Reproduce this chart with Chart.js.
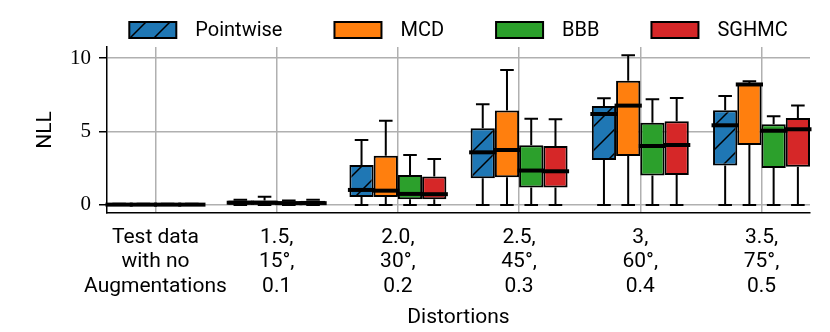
<!DOCTYPE html>
<html>
<head>
<meta charset="utf-8">
<script src="https://cdn.jsdelivr.net/npm/chart.js@4/dist/chart.umd.min.js"></script>
<style>
  html, body { margin: 0; padding: 0; background: #fff; }
  #wrap { width: 830px; height: 332px; }
</style>
</head>
<body>
<div id="wrap"><canvas id="nllChart" width="830" height="332"></canvas></div>
<script>
// tick labels, one entry per distortion level
const categories = [
  ["Test data", "with no", "Augmentations"],
  ["1.5,", "15°,", "0.1"],
  ["2.0,", "30°,", "0.2"],
  ["2.5,", "45°,", "0.3"],
  ["3,", "60°,", "0.4"],
  ["3.5,", "75°,", "0.5"]
];

// five-number summaries per level: [min, q1, median, q3, max]
const pointwise = [
  [0, 0, 0.02, 0.05, 0.08],
  [0, 0.02, 0.15, 0.30, 0.35],
  [0, 0.54, 1.02, 2.72, 4.42],
  [0, 1.81, 3.58, 5.22, 6.85],
  [0, 3.06, 6.19, 6.73, 7.26],
  [0, 2.68, 5.42, 6.44, 7.41]
];
const mcd = [
  [0, 0, 0.02, 0.05, 0.08],
  [0, 0.02, 0.15, 0.30, 0.55],
  [0, 0.54, 0.97, 3.35, 5.73],
  [0, 1.88, 3.74, 6.42, 9.18],
  [0, 3.33, 6.76, 8.46, 10.18],
  [0, 4.08, 8.20, 8.25, 8.42]
];
const bbb = [
  [0, 0, 0.02, 0.05, 0.08],
  [0, 0.02, 0.12, 0.25, 0.30],
  [0, 0.39, 0.75, 2.04, 3.40],
  [0, 1.18, 2.34, 4.06, 5.87],
  [0, 2.00, 4.01, 5.60, 7.19],
  [0, 2.52, 5.05, 5.49, 6.03]
];
const sghmc = [
  [0, 0, 0.02, 0.05, 0.08],
  [0, 0.02, 0.12, 0.28, 0.35],
  [0, 0.39, 0.73, 1.93, 3.13],
  [0, 1.18, 2.29, 4.01, 5.83],
  [0, 2.04, 4.08, 5.69, 7.28],
  [0, 2.59, 5.15, 5.92, 6.76]
];

const FONT = "Roboto";

function hatchPattern(color) {
  const size = 24;
  const c = document.createElement("canvas");
  c.width = size;
  c.height = size;
  const g = c.getContext("2d");
  g.fillStyle = color;
  g.fillRect(0, 0, size, size);
  g.strokeStyle = "#000";
  g.lineWidth = 1.5;
  g.beginPath();
  g.moveTo(-2, size + 2); g.lineTo(size + 2, -2);
  g.moveTo(-2, 2); g.lineTo(2, -2);
  g.moveTo(size - 2, size + 2); g.lineTo(size + 2, size - 2);
  g.stroke();
  return g.createPattern(c, "repeat");
}

function makeDataset(label, stats, fill) {
  return {
    label: label,
    stats: stats,
    data: stats.map((s, i) => ({ x: i, y: [s[1], s[3]] })),
    backgroundColor: fill,
    borderColor: "#000",
    borderWidth: 2,
    borderSkipped: false,
    categoryPercentage: 0.8,
    barPercentage: 1.0
  };
}

// whiskers, caps and medians, placed with the chart's own scales
const boxParts = {
  id: "boxParts",
  afterDatasetsDraw(chart) {
    const ctx = chart.ctx;
    const y = chart.scales.y;
    ctx.save();
    ctx.strokeStyle = "#000";
    chart.data.datasets.forEach((ds, di) => {
      const meta = chart.getDatasetMeta(di);
      meta.data.forEach((bar, i) => {
        const s = ds.stats[i];
        const { x, width } = bar.getProps(["x", "width"], true);
        const capHalf = width * 0.28;
        const yMin = y.getPixelForValue(s[0]);
        const yQ1 = y.getPixelForValue(s[1]);
        const yMed = y.getPixelForValue(s[2]);
        const yQ3 = y.getPixelForValue(s[3]);
        const yMax = y.getPixelForValue(s[4]);
        ctx.lineWidth = 2;
        ctx.beginPath();
        ctx.moveTo(x, yQ1); ctx.lineTo(x, yMin);
        ctx.moveTo(x, yQ3); ctx.lineTo(x, yMax);
        ctx.moveTo(x - capHalf, yMin); ctx.lineTo(x + capHalf, yMin);
        ctx.moveTo(x - capHalf, yMax); ctx.lineTo(x + capHalf, yMax);
        ctx.stroke();
        ctx.lineWidth = 4;
        ctx.beginPath();
        ctx.moveTo(x - width / 2 - 1.5, yMed);
        ctx.lineTo(x + width / 2 + 1.5, yMed);
        ctx.stroke();
      });
    });
    ctx.restore();
  }
};

// legend row above the plot, centred on the chart area
const boxLegend = {
  id: "boxLegend",
  afterDraw(chart) {
    const ctx = chart.ctx;
    const area = chart.chartArea;
    ctx.save();
    ctx.font = "20px " + FONT;
    const boxW = 47, boxH = 16, gapText = 19, gapItem = 52;
    const items = chart.data.datasets.map(ds => ({
      label: ds.label,
      fill: ds.backgroundColor,
      w: ctx.measureText(ds.label).width
    }));
    const total = items.reduce((a, it) => a + boxW + gapText + it.w, 0) + gapItem * (items.length - 1);
    let x = (area.left + area.right) / 2 - total / 2;
    const yc = 30;
    items.forEach(it => {
      ctx.fillStyle = it.fill;
      ctx.fillRect(x, yc - boxH / 2, boxW, boxH);
      ctx.strokeStyle = "#000";
      ctx.lineWidth = 2;
      ctx.strokeRect(x, yc - boxH / 2, boxW, boxH);
      ctx.fillStyle = "#000";
      ctx.textAlign = "left";
      ctx.textBaseline = "middle";
      ctx.fillText(it.label, x + boxW + gapText, yc + 1);
      x += boxW + gapText + it.w + gapItem;
    });
    ctx.restore();
  }
};

function main() {
  const ctx = document.getElementById("nllChart").getContext("2d");
  new Chart(ctx, {
    type: "bar",
    data: {
      datasets: [
        makeDataset("Pointwise", pointwise, hatchPattern("#1f77b4")),
        makeDataset("MCD", mcd, "#ff7f0e"),
        makeDataset("BBB", bbb, "#2ca02c"),
        makeDataset("SGHMC", sghmc, "#d62728")
      ]
    },
    options: {
      responsive: false,
      animation: false,
      events: [],
      layout: { padding: { top: 47, right: 20, bottom: 0, left: 0 } },
      plugins: {
        legend: { display: false },
        tooltip: { enabled: false }
      },
      scales: {
        x: {
          type: "linear",
          min: -0.4,
          max: 5.4,
          offset: false,
          afterFit: s => { s.height = 119; },
          grid: { offset: false, color: "#b0b0b0", lineWidth: 1.5, drawTicks: false },
          border: { color: "#000", width: 1.5 },
          ticks: {
            stepSize: 1,
            includeBounds: false,
            autoSkip: false,
            maxRotation: 0,
            padding: 13,
            color: "#000",
            font: { family: FONT, size: 21, lineHeight: 1.15 },
            callback: v => categories[v] || ""
          },
          title: {
            display: true,
            text: "Distortions",
            color: "#000",
            font: { family: FONT, size: 21 },
            padding: { top: 0, bottom: 2 }
          }
        },
        y: {
          min: -0.55,
          max: 10.75,
          afterFit: s => { s.width = 107; },
          grid: { color: "#b0b0b0", lineWidth: 1.5, tickColor: "#000", tickWidth: 1.5, tickLength: 8 },
          border: { color: "#000", width: 1.5 },
          ticks: {
            stepSize: 5,
            includeBounds: false,
            padding: 8,
            color: "#000",
            font: { family: "Liberation Serif", size: 21 }
          },
          title: {
            display: true,
            text: "NLL",
            color: "#000",
            font: { family: FONT, size: 21 },
            padding: { top: 33, bottom: 0 }
          }
        }
      }
    },
    plugins: [boxParts, boxLegend]
  });
}

window.addEventListener("DOMContentLoaded", main);
</script>
</body>
</html>
